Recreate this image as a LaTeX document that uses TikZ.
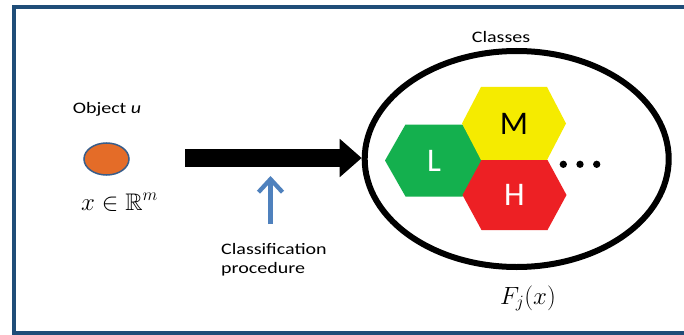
\documentclass[tikz,border=0pt]{standalone}
\usepackage{amssymb}
\usepackage{fontspec}
\setmainfont{Carlito}
\newfontfamily\widefont[FakeStretch=1.25]{Carlito}
\usetikzlibrary{shapes.geometric,arrows.meta}
\definecolor{framebl}{RGB}{31,77,120}
\definecolor{arrbl}{RGB}{79,129,189}
\definecolor{objor}{RGB}{228,108,40}
\definecolor{objline}{RGB}{56,93,138}
\definecolor{hexgreen}{RGB}{20,176,78}
\definecolor{hexyellow}{RGB}{245,235,0}
\definecolor{hexred}{RGB}{237,32,36}
\newcommand{\hexpoly}[6]{% cx cy halfwidth halftop halfheight colour
  \fill[#6, shift={(#1,#2)}] (-#3,0) -- (-#4,-#5) -- (#4,-#5) -- (#3,0) -- (#4,#5) -- (-#4,#5) -- cycle;}
\begin{document}
\begin{tikzpicture}[x=1pt,y=-1pt,
  txt/.style={font=\widefont\fontsize{16}{18.5}\selectfont, inner sep=0pt},
  mathtxt/.style={font=\fontsize{24}{28}\selectfont, inner sep=0pt},
  hexlabel/.style={font=\fontsize{33}{36}\selectfont, inner sep=0pt},
  bigarrow/.style={line width=18pt, -{Triangle[length=22pt,width=37pt]}},
  smallarrow/.style={draw=arrbl, line width=4.3pt, -{Straight Barb[length=13pt,width=24pt]}},
  dot/.style={circle, fill=black, inner sep=0pt, minimum size=7.3pt}]
\clip (0,0) rectangle (684,334);
\fill[white] (0,0) rectangle (684,334);
% frame
\draw[framebl, line width=4.3pt] (700,6.8) -- (13.8,6.8) -- (13.8,332.8) -- (700,332.8);
% object
\node[txt, anchor=base] (objlabel) at (107,113.3) {Object \textit{u}};
\node[ellipse, draw=objline, fill=objor, line width=1.5pt, minimum width=45pt, minimum height=32pt, inner sep=0pt] (obj) at (106.5,159) {};
\node[mathtxt, anchor=base] (space) at (119.5,210) {$x\in\mathbb{R}^{m}$};
% classes ellipse
\node[ellipse, draw=black, line width=6pt, minimum width=304pt, minimum height=216pt, inner sep=0pt] (cls) at (516.7,159) {};
\node[txt, anchor=base] (clslabel) at (501,43) {Classes};
% hexagons
\hexpoly{434}{160.5}{49}{28.5}{36}{hexgreen}
\hexpoly{514}{123.5}{52}{33}{36.5}{hexyellow}
\hexpoly{514.5}{195}{52}{33}{35}{hexred}
\node[hexlabel, text=white] (L) at (434,161) {L};
\node[hexlabel, text=black] (M) at (514,123.5) {M};
\node[hexlabel, text=white] (H) at (514.5,195) {H};
\node[dot] (d1) at (563.3,164.3) {};
\node[dot] (d2) at (580,164.3) {};
\node[dot] (d3) at (596.7,164.3) {};
\node[mathtxt, anchor=base] (fj) at (528,304) {$F_{j}(x)$};
% arrows
\coordinate (bstart) at (185,158);
\draw[bigarrow] (bstart) -- (bstart -| cls.west);
\coordinate (pstart) at (270.5,224);
\coordinate (ptip) at (270.5,176);
\draw[smallarrow] (pstart) -- (ptip);
\node[txt, anchor=north west, align=left] (proc) at (221,243.5) {Classification\\procedure};
\end{tikzpicture}
\end{document}
